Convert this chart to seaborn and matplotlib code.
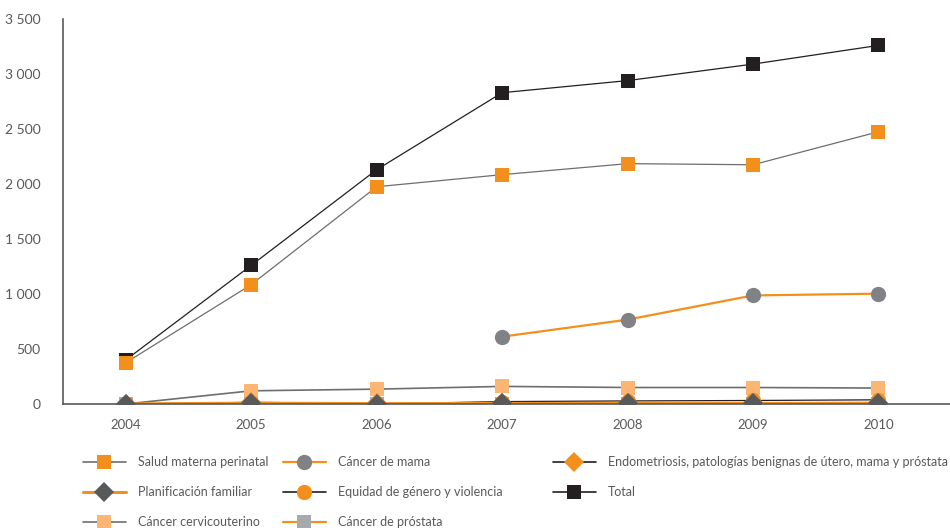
import matplotlib
matplotlib.use('Agg')
import numpy as np
import pandas as pd
import matplotlib.pyplot as plt
import seaborn as sns
from matplotlib.lines import Line2D

years = ['2004', '2005', '2006', '2007', '2008', '2009', '2010']
salud_materna = [375, 1085, 1975, 2085, 2185, 2175, 2475]
planificacion = [0, 8, 3, 5, 5, 5, 8]
cervicouterino = [0, 120, 135, 160, 150, 150, 145]
cancer_mama = [np.nan, np.nan, np.nan, 612, 767, 987, 1003]
equidad = [0, 0, 0, 22, 28, 32, 38]
prostata = [0, 2, 2, 2, 2, 2, 2]
endometriosis = [0, 15, 5, 5, 8, 8, 12]
total = [400, 1260, 2130, 2830, 2940, 3090, 3260]

orange = '#F3901D'
black = '#231F20'
dgrey = '#58595B'
grey_line = '#6D6E71'

sns.set_style('white')
plt.rcParams['font.family'] = ['Lato', 'DejaVu Sans']

fig = plt.figure(figsize=(9.5, 5.28), dpi=100)
ax = fig.add_axes([63 / 950, 1 - 404 / 528, (950 - 63) / 950, (404 - 19) / 528])

x = np.arange(len(years))

# name, values, line colour, line width, marker, marker colour, marker size
series = [
    ('Total', total, black, 0.9, 's', black, 10),
    ('Cáncer de mama', cancer_mama, orange, 1.6, 'o', '#808285', 11),
    ('Cáncer cervicouterino', cervicouterino, grey_line, 1.2, 's', '#FBB673', 10),
    ('Cáncer de próstata', prostata, orange, 1.6, 's', '#A7A9AC', 10),
    ('Equidad de género y violencia', equidad, black, 0.9, 'o', orange, 11),
    ('Endometriosis, patologías benignas de útero, mama y próstata', endometriosis, black, 0.9, 'D', orange, 10),
    ('Salud materna perinatal', salud_materna, grey_line, 0.9, 's', orange, 10),
    ('Planificación familiar', planificacion, orange, 2.2, 'D', dgrey, 10),
]

handles = {}
for name, vals, lc, lw, mk, mc, ms in series:
    df = pd.DataFrame({'x': x, 'y': vals}).dropna()
    sns.lineplot(data=df, x='x', y='y', ax=ax, color=lc, linewidth=lw,
                 marker=mk, markersize=ms, markerfacecolor=mc,
                 markeredgecolor=mc, markeredgewidth=0)
    handles[name] = Line2D([], [], color=lc, linewidth=lw if lw > 1.2 else 1.2,
                           marker=mk, markersize=ms, markerfacecolor=mc,
                           markeredgecolor=mc, markeredgewidth=0)

ax.set_xlim(-0.5, 6.57)
ax.set_ylim(0, 3500)
ax.set_xlabel('')
ax.set_ylabel('')

ax.set_xticks(x)
ax.set_xticklabels(years)
ax.set_xticks(np.arange(-0.5, 7, 1), minor=True)
ax.tick_params(axis='x', which='major', length=0, pad=11, labelsize=9.5, labelcolor='#58595B')
ax.tick_params(axis='x', which='minor', length=8, width=1.2, color='#58595B', direction='out')

yt = np.arange(0, 3501, 500)
ax.set_yticks(yt)
ax.set_yticklabels([f'{v:,}'.replace(',', ' ') for v in yt])
ax.tick_params(axis='y', length=10, width=1.2, color='#58595B', direction='out',
               pad=6, labelsize=10, labelcolor='#58595B')

sns.despine(ax=ax)
for s in ['left', 'bottom']:
    ax.spines[s].set_color('#58595B')
    ax.spines[s].set_linewidth(1.2)

cols = [
    (['Salud materna perinatal', 'Planificación familiar', 'Cáncer cervicouterino'], 83),
    (['Cáncer de mama', 'Equidad de género y violencia', 'Cáncer de próstata'], 283),
    (['Endometriosis, patologías benignas de útero, mama y próstata', 'Total'], 553),
]
for names, xpos in cols:
    fig.legend([handles[n] for n in names], names, loc='upper left',
               bbox_to_anchor=(xpos / 950, 1 - 456 / 528), frameon=False,
               handlelength=3.4, handletextpad=1.0, labelspacing=1.45,
               borderaxespad=0, borderpad=0, fontsize=9, labelcolor='#58595B')

fig.savefig('out.png', dpi=100)
